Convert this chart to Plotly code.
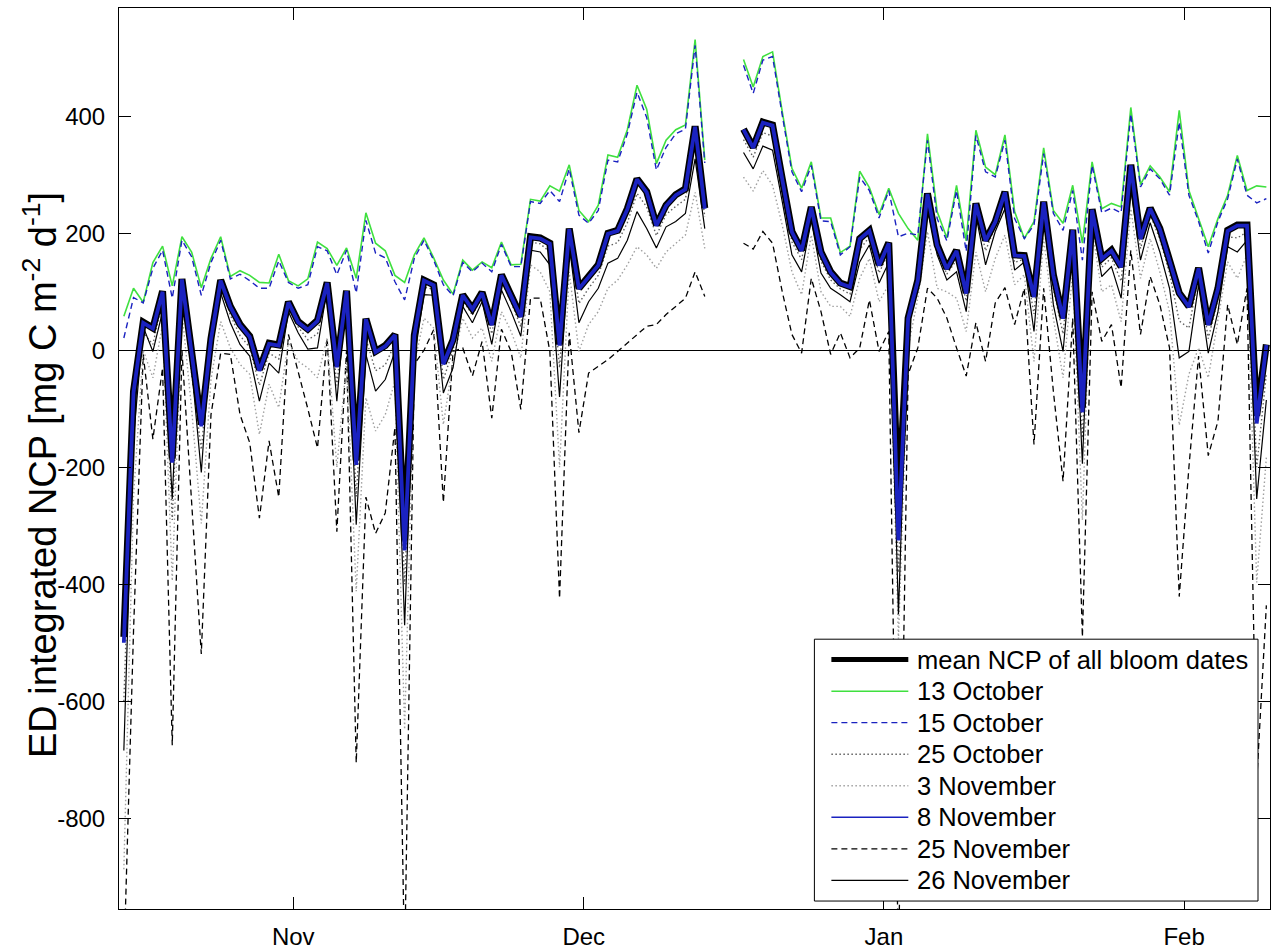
import pandas as pd
import plotly.graph_objects as go

# Daily values at noon, 14 Oct – 9 Feb (no data 14–16 Dec)
dates = pd.date_range("2009-10-14 12:00", "2010-02-09 12:00", freq="D")
N = None

mean_ncp = [-490, -70, 48, 38, 101, -185, 122, -5, -127, 20,
            120, 75, 44, 24, -33, 12, 9, 83, 49, 36,
            51, 116, -27, 102, -188, 54, -2, 8, 27, -325,
            26, 120, 112, -22, 18, 95, 71, 99, 44, 129,
            95, 58, 194, 192, 183, 10, 208, 106, 126, 146,
            200, 205, 242, 293, 271, 214, 248, 266, 276, 383,
            243, N, N, N, 378, 347, 390, 385, 293, 203,
            171, 245, 168, 134, 115, 109, 191, 205, 146, 184,
            -272, 55, 120, 268, 180, 140, 171, 98, 251, 188,
            220, 271, 163, 162, 92, 254, 129, 55, 206, -98,
            241, 157, 171, 143, 317, 191, 243, 208, 154, 98,
            75, 141, 44, 106, 205, 214, 214, -112, 10]

oct13 = [58, 106, 82, 150, 178, 110, 194, 168, 107, 157,
         194, 126, 136, 128, 116, 115, 164, 119, 110, 122,
         185, 174, 145, 175, 123, 235, 183, 170, 128, 116,
         163, 192, 158, 120, 96, 154, 137, 151, 141, 185,
         146, 147, 258, 255, 281, 272, 317, 239, 220, 248,
         334, 330, 377, 453, 412, 319, 359, 377, 385, 531,
         325, N, N, N, 497, 450, 502, 510, 408, 311,
         277, 322, 226, 226, 167, 178, 306, 278, 232, 277,
         234, 208, 188, 370, 237, 192, 282, 187, 376, 313,
         300, 368, 237, 191, 220, 346, 239, 217, 282, 183,
         322, 242, 251, 245, 415, 283, 315, 296, 271, 410,
         273, 225, 177, 225, 265, 333, 273, 281, 279]

oct15 = [21, 90, 81, 140, 171, 89, 188, 160, 94, 150,
         188, 122, 130, 119, 106, 106, 153, 116, 106, 112,
         177, 170, 129, 171, 98, 222, 166, 158, 117, 86,
         157, 188, 154, 112, 93, 150, 134, 149, 134, 181,
         143, 143, 254, 251, 273, 254, 310, 231, 217, 239,
         325, 322, 370, 441, 398, 308, 347, 370, 378, 521,
         320, N, N, N, 487, 439, 496, 502, 402, 305,
         271, 316, 221, 220, 163, 177, 296, 273, 226, 273,
         194, 200, 197, 359, 225, 187, 273, 169, 367, 305,
         296, 359, 225, 191, 214, 336, 234, 205, 273, 154,
         316, 235, 243, 235, 404, 279, 310, 293, 265, 390,
         265, 220, 166, 220, 259, 327, 265, 252, 259]

oct25 = [-600, -110, 30, 10, 85, -290, 112, -40, -170, 10,
         110, 60, 25, 5, -60, -5, -15, 75, 40, 18,
         28, 110, -60, 100, -250, 20, -35, -25, 12, -400,
         8, 108, 104, -50, 0, 86, 60, 92, 28, 118,
         82, 40, 185, 182, 168, -30, 196, 80, 106, 128,
         178, 184, 218, 268, 245, 196, 232, 246, 258, 360,
         228, N, N, N, 360, 330, 372, 366, 276, 185,
         155, 236, 152, 120, 105, 96, 172, 194, 132, 168,
         -380, 52, 116, 258, 172, 130, 154, 84, 242, 170,
         212, 258, 150, 156, 62, 244, 105, 28, 194, -150,
         232, 142, 158, 118, 298, 174, 232, 190, 132, 50,
         38, 128, 20, 88, 194, 192, 202, -200, -40]

nov3 = [-887, -250, 0, -47, 44, -394, 66, -100, -296, -50,
        49, 4, -24, -41, -144, -58, -98, 15, -19, -30,
        -47, 21, -200, -19, -412, -81, -138, -110, -53, -648,
        -24, 55, 38, -127, -19, 55, 21, 38, -19, 66,
        32, -13, 146, 134, 100, -200, 134, -2, 44, 66,
        106, 120, 146, 177, 163, 140, 168, 183, 197, 270,
        174, N, N, N, 296, 272, 307, 282, 214, 134,
        95, 197, 100, 75, 75, 58, 123, 157, 83, 112,
        -493, 4, 89, 203, 106, 100, 89, 32, 168, 100,
        157, 197, 112, 129, -19, 191, 55, -47, 134, -290,
        208, 100, 112, 49, 242, 123, 191, 134, 66, -128,
        -41, 4, -47, 55, 151, 123, 163, -397, -183]

nov8 = [-500, -72, 47, 37, 100, -192, 121, -6, -130, 19,
        119, 74, 43, 23, -35, 11, 8, 82, 48, 35,
        50, 115, -29, 101, -196, 53, -3, 7, 26, -342,
        25, 119, 111, -24, 17, 94, 70, 98, 43, 128,
        94, 57, 193, 191, 182, 8, 207, 105, 125, 145,
        199, 204, 241, 292, 270, 213, 247, 265, 275, 382,
        242, N, N, N, 377, 346, 389, 384, 292, 202,
        170, 244, 167, 133, 114, 108, 190, 204, 145, 183,
        -325, 54, 119, 267, 179, 139, 170, 97, 250, 187,
        219, 270, 162, 161, 91, 253, 128, 54, 205, -106,
        240, 156, 170, 142, 316, 190, 242, 207, 153, 97,
        74, 140, 43, 105, 204, 213, 213, -125, 9]

nov25 = [-1050, -480, -7, -152, -30, -675, 0, -255, -519, -110,
         -5, -7, -110, -158, -287, -155, -251, 27, -36, -100,
         -167, 21, -310, 0, -705, -251, -313, -278, -132, -1050,
         -24, 0, 35, -260, -2, 4, -44, 15, -116, 36,
         -2, -101, 89, 89, -2, -424, 30, -141, -39, -27,
         -16, -2, 12, 27, 41, 44, 61, 75, 89, 134,
         92, N, N, N, 183, 173, 203, 183, 100, 27,
         -5, 123, 66, -7, 30, -13, 4, 86, -2, 32,
         -1050, -41, 4, 106, 89, 55, 4, -44, 47, -19,
         81, 107, 44, 106, -161, 106, -70, -224, 55, -490,
         100, 15, 44, -64, 171, 27, 126, 78, 4, -421,
         -200, -10, -180, -121, 78, 10, 106, -737, -436]

nov26 = [-684, -150, 40, -2, 66, -254, 106, -30, -209, 27,
         98, 47, 10, -10, -87, -22, -39, 66, 30, 2,
         4, 106, -87, 100, -298, -7, -70, -50, -2, -470,
         -13, 95, 94, -73, -30, 75, 47, 83, 10, 103,
         66, 24, 171, 168, 146, -80, 180, 47, 83, 106,
         149, 157, 188, 237, 208, 175, 211, 220, 234, 327,
         208, N, N, N, 338, 310, 349, 342, 254, 163,
         134, 222, 132, 106, 95, 83, 151, 180, 115, 150,
         -451, 49, 112, 242, 163, 120, 134, 66, 231, 146,
         203, 242, 137, 151, 32, 231, 78, -2, 180, -194,
         222, 126, 143, 89, 276, 154, 218, 168, 106, -13,
         -2, 112, -5, 66, 177, 168, 188, -254, -85]

y_ticks = [-800, -600, -400, -200, 0, 200, 400]
y_tick_text = ["-800", "-600", "-400", "-200", "0", "200", "400"]
month_ticks = ["2009-11-01", "2009-12-01", "2010-01-01", "2010-02-01"]
month_text = ["Nov", "Dec", "Jan", "Feb"]
y_label = "ED integrated NCP [mg C m<sup>-2</sup> d<sup>-1</sup>]"

FONT = "Arial, Liberation Sans, Helvetica, sans-serif"
GREEN = "#3fe03f"
BLUE = "#1a22c0"
DASH = "6px,4px"
DOT = "1.5px,2.5px"

# figure geometry (pixels) used to place the key box and axis label
W, H = 1272, 951
ML, MR, MT, MB = 119, 1, 8, 38
PW, PH = W - ML - MR, H - MT - MB


def px_x(px):
    return (px - ML) / PW


def px_y(py):
    return 1 - (py - MT) / PH


# series: (label, values, colour, plot width, dash, key width)
series = [
    ("mean NCP of all bloom dates", mean_ncp, "black", 7, "solid", 5),
    ("13 October", oct13, GREEN, 1.6, "solid", 1.5),
    ("15 October", oct15, BLUE, 1.4, DASH, 1.4),
    ("25 October", oct25, "#606060", 1.4, DOT, 1.4),
    ("3 November", nov3, "#a0a0a0", 1.4, DOT, 1.4),
    ("8 November", nov8, BLUE, 3.8, "solid", 1.4),
    ("25 November", nov25, "black", 1.3, DASH, 1.3),
    ("26 November", nov26, "black", 1.2, "solid", 1.2),
]
draw_order = [6, 4, 3, 7, 1, 2, 0, 5]

fig = go.Figure()
for k in draw_order:
    name, vals, color, width, dash, _ = series[k]
    fig.add_trace(go.Scatter(
        x=dates, y=vals, name=name, mode="lines", showlegend=False,
        line=dict(color=color, width=width, dash=dash)))

# key box
shapes = [dict(type="rect", xref="paper", yref="paper", layer="above",
               x0=px_x(815), x1=px_x(1259), y0=px_y(905), y1=px_y(642),
               fillcolor="white", line=dict(color="black", width=1))]
annotations = []
row_top, row_step = 662.5, 31.67
for k, (name, _, color, _, dash, kw) in enumerate(series):
    yy = px_y(row_top + k * row_step)
    shapes.append(dict(type="line", xref="paper", yref="paper", layer="above",
                       x0=px_x(832), x1=px_x(909), y0=yy, y1=yy,
                       line=dict(color=color, width=kw, dash=dash)))
    annotations.append(dict(text=name, xref="paper", yref="paper",
                            x=px_x(916), y=yy, xanchor="left", yanchor="middle",
                            showarrow=False,
                            font=dict(family=FONT, size=25.5, color="black")))

# vertical axis label
annotations.append(dict(text=y_label, xref="paper", yref="paper",
                        x=px_x(40), y=px_y(477), xanchor="center",
                        yanchor="middle", textangle=-90, showarrow=False,
                        font=dict(family=FONT, size=38, color="black")))

axis_common = dict(
    showline=True, linecolor="black", linewidth=1, mirror="allticks",
    ticks="inside", ticklen=12, tickcolor="black", tickwidth=1,
    showgrid=False, tickfont=dict(family=FONT, size=24, color="black"),
)

fig.update_xaxes(
    **axis_common,
    range=["2009-10-14 00:00", "2010-02-09 21:00"],
    tickvals=month_ticks, ticktext=month_text, ticklabelstandoff=6,
    zeroline=False,
)
fig.update_yaxes(
    **axis_common,
    range=[-955, 585], tickvals=y_ticks, ticktext=y_tick_text,
    ticklabelstandoff=8,
    zeroline=True, zerolinecolor="black", zerolinewidth=1,
)

fig.update_layout(
    width=W, height=H,
    margin=dict(l=ML, r=MR, t=MT, b=MB),
    paper_bgcolor="white", plot_bgcolor="white",
    font=dict(family=FONT, color="black"),
    showlegend=False,
    shapes=shapes, annotations=annotations,
)

fig.write_html("out.html")
